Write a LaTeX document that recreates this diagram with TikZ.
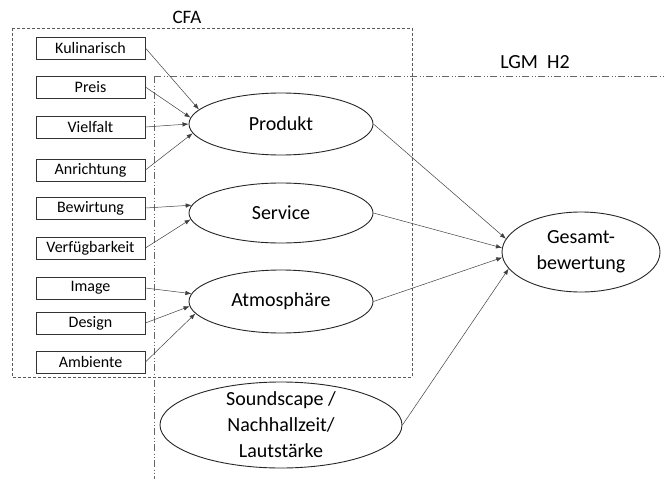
\documentclass[tikz,border=0pt]{standalone}
\usepackage{fontspec}
\setmainfont{Carlito}
\usetikzlibrary{shapes.geometric,arrows.meta}

\begin{document}
\begin{tikzpicture}[x=1pt,y=-1pt,
  ind/.style={draw=black!80,line width=0.8pt,minimum width=109pt,minimum height=22pt,inner sep=0pt,font=\fontsize{16}{19}\selectfont},
  lat/.style={ellipse,draw=black!85,line width=0.9pt,inner sep=0pt,align=center,font=\fontsize{20}{26}\selectfont},
  arr/.style={-{Latex[length=6pt,width=4.5pt]},line width=0.5pt,black!75},
  cfa/.style={black!65,line width=0.7pt,dash pattern=on 3pt off 2pt},
  lgm/.style={black!60,line width=0.7pt,dash pattern=on 7pt off 2.5pt on 1pt off 2pt on 1pt off 2.5pt}]
  \useasboundingbox (0,0) rectangle (664,479);
  % CFA block
  \draw[cfa] (12,28) rectangle (412,377);
  \node[font=\fontsize{19}{22}\selectfont] (cfalab) at (187,17) {CFA};
  % LGM block
  \draw[lgm] (154,76) -- (154,479);
  \draw[lgm] (154,76) -- (664,76);
  \node[font=\fontsize{20}{24}\selectfont] (lgmlab) at (535,62) {LGM\ \ H2};
  % indicators
  \node[ind] (kul)   at (90.5,48)  {Kulinarisch};
  \node[ind] (preis) at (90.5,87)  {Preis};
  \node[ind] (viel)  at (90.5,127) {Vielfalt};
  \node[ind] (anr)   at (90.5,170) {Anrichtung};
  \node[ind] (bew)   at (90.5,208) {Bewirtung};
  \node[ind] (verf)  at (90.5,248) {Verfügbarkeit};
  \node[ind] (img)   at (90.5,288) {Image};
  \node[ind] (des)   at (90.5,323) {Design};
  \node[ind] (amb)   at (90.5,362) {Ambiente};
  % latent variables
  \node[lat,minimum width=184pt,minimum height=62pt] (prod) at (281,124) {Produkt};
  \node[lat,minimum width=184pt,minimum height=60pt] (serv) at (281,213) {Service};
  \node[lat,minimum width=184pt,minimum height=63pt] (atmo) at (281,301.5) {Atmosphäre};
  \node[lat,minimum width=158pt,minimum height=80pt] (ges)  at (581,252) {Gesamt-\\bewertung};
  \node[lat,minimum width=242pt,minimum height=86pt,inner ysep=-15pt] (sound) at (281,425) {Soundscape /\\Nachhallzeit/\\Lautstärke};
  % loadings
  \draw[arr] (kul.east)   -- (prod.170);
  \draw[arr] (preis.east) -- (prod.176);
  \draw[arr] (viel.east)  -- (prod.180);
  \draw[arr] (anr.east)   -- (prod.186);
  \draw[arr] (bew.east)   -- (serv.175);
  \draw[arr] (verf.east)  -- (serv.184);
  \draw[arr] (img.east)   -- (atmo.175);
  \draw[arr] (des.east)   -- (atmo.183);
  \draw[arr] (amb.east)   -- (atmo.188);
  % paths
  \draw[arr] (prod.east)  -- (ges.170);
  \draw[arr] (serv.east)  -- (ges.177);
  \draw[arr] (atmo.east)  -- (ges.184);
  \draw[arr] (sound.east) -- (ges.193);
\end{tikzpicture}
\end{document}
